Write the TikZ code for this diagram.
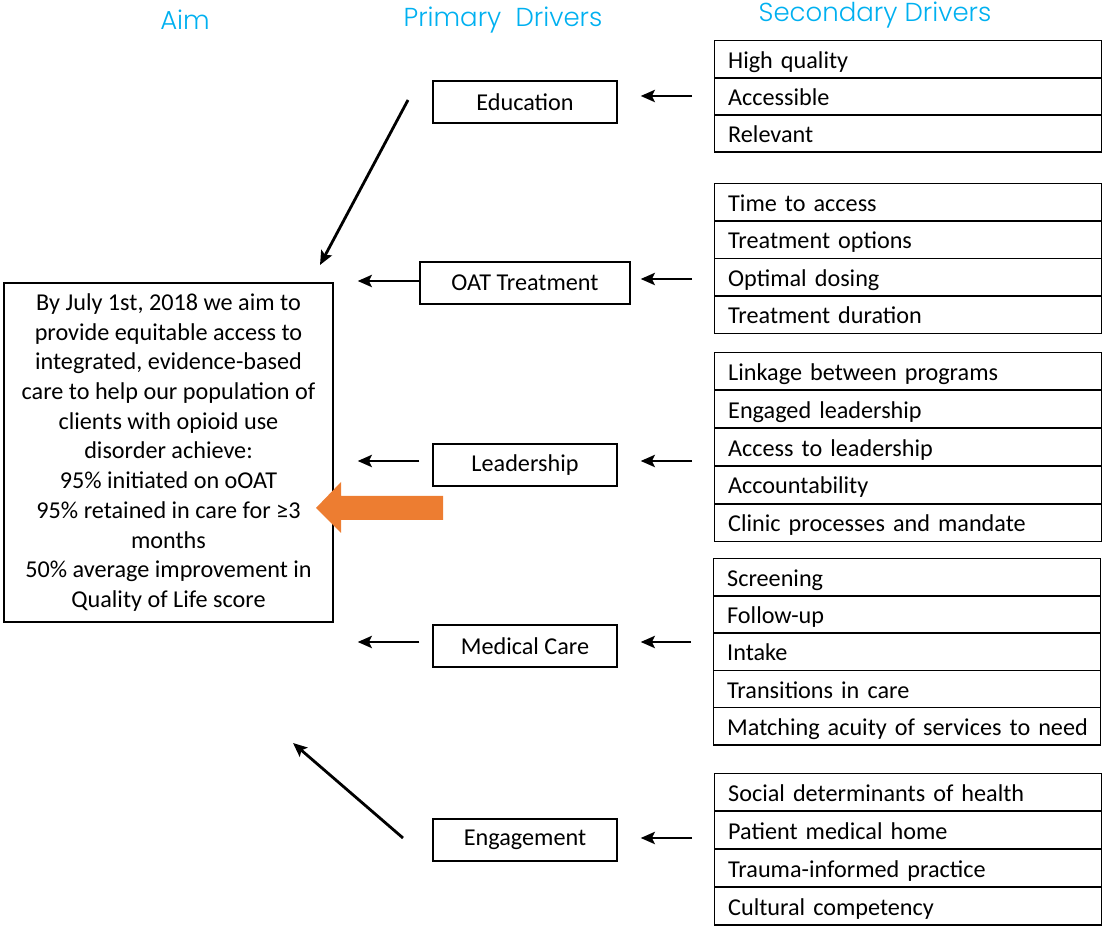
\documentclass[tikz,border=0pt]{standalone}
\usepackage{fontspec}
\setmainfont{Carlito}
\newfontfamily\headfont{Poppins}[UprightFont={* Light}]
\usepackage{tikz}
\usetikzlibrary{arrows.meta,positioning}
\definecolor{titlecyan}{RGB}{0,176,240}
\definecolor{pushorange}{RGB}{237,125,49}

\tikzset{
  colhead/.style={font=\headfont\fontsize{13}{15}\selectfont, text=titlecyan},
  primbox/.style={draw, line width=0.7pt, minimum height=21pt, inner sep=0pt,
    font=\fontsize{12.1}{14}\selectfont},
  secrow/.style={draw, line width=0.7pt, anchor=north west, minimum width=193.5pt,
    minimum height=18.75pt, text width=180pt, inner xsep=6.5pt, inner ysep=0pt,
    text height=10pt, text depth=1pt, align=left, font=\fontsize{12.1}{14}\selectfont},
  arr/.style={-{Stealth[length=7pt,width=6pt,inset=1.4pt]}, line width=1.4pt}
}

\begin{document}
\begin{tikzpicture}[x=0.5pt, y=-0.5pt]

\useasboundingbox (0,0) rectangle (1105,930);

% ==========================================
% Column Headers
% ==========================================
\node[colhead] (hAim)  at (185,20) {Aim};
\node[colhead] (hPrim) at (503,20) {Primary\ \ Drivers};
\node[colhead] (hSec)  at (875,15) {Secondary Drivers};

% ==========================================
% Aim Box
% ==========================================
\node[draw, line width=0.7pt, minimum width=164.5pt, minimum height=169.5pt, align=center,
  font=\fontsize{12.1}{14.85}\selectfont] (aim) at (168.5,452.5)
  {By July 1st, 2018 we aim to\\provide equitable access to\\integrated, evidence-based\\
   care to help our population of\\clients with opioid use\\disorder achieve:\\
   95\% initiated on oOAT\\95\% retained in care for ≥3\\months\\
   50\% average improvement in\\Quality of Life score};

% ==========================================
% Primary Drivers
% ==========================================
\node[primbox, minimum width=92pt]  (edu)  at (525,102) {Education};
\node[primbox, minimum width=105pt] (oat)  at (525,283) {OAT Treatment};
\node[primbox, minimum width=92pt]  (lead) at (525,465) {Leadership};
\node[primbox, minimum width=92pt]  (med)  at (525,646) {Medical Care};
\node[primbox, minimum width=92pt]  (eng)  at (525,840) {Engagement};

% ==========================================
% Secondary Drivers (stacked rows)
% ==========================================
% Education
\foreach \txt [count=\i] in {High quality, Accessible, Relevant}
  \node[secrow] (secA-\i) at (714,{40+(\i-1)*37}) {\mbox{\txt}};
% OAT Treatment
\foreach \txt [count=\i] in {Time to access, Treatment options, Optimal dosing, Treatment duration}
  \node[secrow] (secB-\i) at (714,{183+(\i-1)*37.5}) {\mbox{\txt}};
% Leadership
\foreach \txt [count=\i] in {Linkage between programs, Engaged leadership, Access to leadership,
    Accountability, Clinic processes and mandate}
  \node[secrow] (secC-\i) at (714,{352+(\i-1)*37.8}) {\mbox{\txt}};
% Medical Care
\foreach \txt [count=\i] in {Screening, Follow-up, Intake, Transitions in care,
    Matching acuity of services to need}
  \node[secrow] (secD-\i) at (713,{558+(\i-1)*37.2}) {\mbox{\txt}};
% Engagement
\foreach \txt [count=\i] in {Social determinants of health, Patient medical home,
    Trauma-informed practice, Cultural competency}
  \node[secrow] (secE-\i) at (714,{773+(\i-1)*38}) {\mbox{\txt}};

% ==========================================
% Secondary -> Primary Arrows
% ==========================================
\draw[arr, shorten <=11pt, shorten >=11.5pt] ([yshift=3pt]edu.east -| secA-1.west) -- ([yshift=3pt]edu.east);
\draw[arr, shorten <=11pt, shorten >=5pt]    ([yshift=2pt]oat.east -| secB-1.west) -- ([yshift=2pt]oat.east);
\draw[arr, shorten <=11pt, shorten >=11.5pt] ([yshift=2pt]lead.east -| secC-1.west) -- ([yshift=2pt]lead.east);
\draw[arr, shorten <=11pt, shorten >=11.5pt] ([yshift=2pt]med.east -| secD-1.west) -- ([yshift=2pt]med.east);
\draw[arr, shorten <=11pt, shorten >=11.5pt] ([yshift=1pt]eng.east -| secE-1.west) -- ([yshift=1pt]eng.east);

% ==========================================
% Primary -> Aim Arrows
% ==========================================
\draw[arr, shorten >=12pt] ([yshift=1pt]oat.west) -- ([yshift=1pt]oat.west -| aim.east);
\draw[arr, shorten <=6.5pt, shorten >=12pt] ([yshift=2pt]lead.west) -- ([yshift=2pt]lead.west -| aim.east);
\draw[arr, shorten <=6.5pt, shorten >=12pt] ([yshift=2pt]med.west) -- ([yshift=2pt]med.west -| aim.east);

% Diagonal arrows (free ends)
\coordinate (eduTail) at (408,100);
\coordinate (eduTip)  at (320,265);
\draw[arr] (eduTail) -- (eduTip);
\coordinate (engTail) at (403,838);
\coordinate (engTip)  at (293,743);
\draw[arr] (engTail) -- (engTip);

% ==========================================
% Block Arrow into Aim
% ==========================================
\fill[pushorange] (443,496) -- (341,496) -- (341,482) -- (316,508) -- (341,533)
  -- (341,520) -- (443,520) -- cycle;

\end{tikzpicture}
\end{document}
